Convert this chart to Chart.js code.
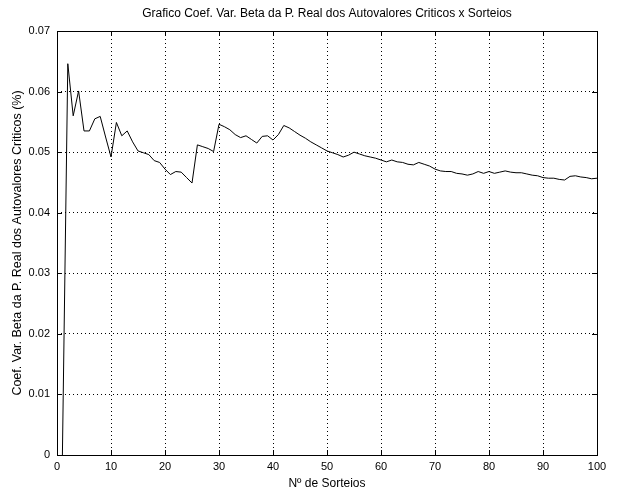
<!DOCTYPE html>
<html>
<head>
<meta charset="utf-8">
<script src="https://cdn.jsdelivr.net/npm/chart.js@4/dist/chart.umd.min.js"></script>
<style>
  html, body { margin: 0; padding: 0; background: #fff; }
  #wrap { width: 620px; height: 491px; }
</style>
</head>
<body>
<div id="wrap"><canvas id="graph" width="620" height="491"></canvas></div>
<script>
// Nº do sorteio (1..100)
const sorteios = Array.from({ length: 100 }, (_, i) => i + 1);

// Coef. de variação
const coefVar = [
  0.0000, 0.0646, 0.0560, 0.0601, 0.0535, 0.0535, 0.0555, 0.0559, 0.0525, 0.0492,
  0.0549, 0.0527, 0.0535, 0.0517, 0.0502, 0.0499, 0.0496, 0.0486, 0.0483, 0.0472,
  0.0463, 0.0468, 0.0467, 0.0458, 0.0449, 0.0512, 0.0509, 0.0506, 0.0501, 0.0546,
  0.0542, 0.0537, 0.0529, 0.0524, 0.0527, 0.0521, 0.0515, 0.0526, 0.0527, 0.0520,
  0.0529, 0.0544, 0.0540, 0.0534, 0.0528, 0.0523, 0.0517, 0.0512, 0.0507, 0.0502,
  0.0499, 0.0496, 0.0492, 0.0495, 0.0500, 0.0497, 0.0494, 0.0492, 0.0490, 0.0487,
  0.0484, 0.0487, 0.0484, 0.0483, 0.0480, 0.0479, 0.0483, 0.0480, 0.0477, 0.0472,
  0.0469, 0.0468, 0.0468, 0.0465, 0.0464, 0.0462, 0.0464, 0.0468, 0.0465, 0.0468,
  0.0465, 0.0467, 0.0469, 0.0467, 0.0466, 0.0466, 0.0464, 0.0462, 0.0461, 0.0458,
  0.0457, 0.0457, 0.0455, 0.0454, 0.0460, 0.0461, 0.0459, 0.0458, 0.0456, 0.0457
];

const xTicks = [0, 10, 20, 30, 40, 50, 60, 70, 80, 90, 100];
const yTicks = [0, 0.01, 0.02, 0.03, 0.04, 0.05, 0.06, 0.07];

const titulo = 'Grafico Coef. Var. Beta da P. Real dos Autovalores Criticos x Sorteios';
const tituloX = 'Nº de Sorteios';
const tituloY = 'Coef. Var. Beta da P. Real dos Autovalores Criticos (%)';

const pontos = sorteios.map((s, i) => ({ x: s, y: coefVar[i] }));

const familia = '"Liberation Sans", Arial, sans-serif';
const fonte = { family: familia, size: 11 };

// moldura, marcas para dentro (estilo matlab) e título centrado na área do gráfico
const moldura = {
  id: 'moldura',
  afterDraw(chart) {
    const { ctx, chartArea: a, scales } = chart;
    ctx.save();
    ctx.strokeStyle = '#000';
    ctx.lineWidth = 1;
    ctx.setLineDash([]);
    ctx.strokeRect(Math.round(a.left) + 0.5, Math.round(a.top) + 0.5,
      Math.round(a.right - a.left), Math.round(a.bottom - a.top));
    ctx.beginPath();
    xTicks.forEach(t => {
      const px = Math.round(scales.x.getPixelForValue(t)) + 0.5;
      ctx.moveTo(px, a.bottom); ctx.lineTo(px, a.bottom - 5);
      ctx.moveTo(px, a.top); ctx.lineTo(px, a.top + 5);
    });
    yTicks.forEach(t => {
      const py = Math.round(scales.y.getPixelForValue(t)) + 0.5;
      ctx.moveTo(a.left, py); ctx.lineTo(a.left + 5, py);
      ctx.moveTo(a.right, py); ctx.lineTo(a.right - 5, py);
    });
    ctx.stroke();

    ctx.fillStyle = '#000';
    ctx.font = '12px ' + familia;
    ctx.textAlign = 'center';
    ctx.textBaseline = 'middle';
    ctx.fillText(titulo, (a.left + a.right) / 2, 14);
    ctx.restore();
  }
};

Chart.defaults.color = '#000';

new Chart(document.getElementById('graph').getContext('2d'), {
  type: 'line',
  data: {
    datasets: [{
      data: pontos,
      borderColor: '#000',
      borderWidth: 1,
      pointRadius: 0,
      tension: 0
    }]
  },
  options: {
    responsive: false,
    animation: false,
    layout: { padding: { left: 0, right: 23, top: 31, bottom: 0 } },
    plugins: {
      legend: { display: false },
      tooltip: { enabled: false },
      title: { display: false }
    },
    scales: {
      x: {
        type: 'linear',
        min: 0,
        max: 100,
        afterBuildTicks: s => { s.ticks = xTicks.map(v => ({ value: v })); },
        afterFit: s => { s.height = 36; },
        ticks: { font: fonte, padding: 5, maxRotation: 0 },
        grid: { color: '#000', lineWidth: 1, drawTicks: false },
        border: { display: false, dash: [1, 3] },
        title: { display: true, text: tituloX, font: { family: familia, size: 12 }, padding: { top: 1, bottom: 0 } }
      },
      y: {
        min: 0,
        max: 0.07,
        afterBuildTicks: s => { s.ticks = yTicks.map(v => ({ value: v })); },
        afterFit: s => { s.width = 57; },
        ticks: {
          font: fonte,
          padding: 7,
          callback: v => (v === 0 ? '0' : Number(v).toFixed(2))
        },
        grid: { color: '#000', lineWidth: 1, drawTicks: false },
        border: { display: false, dash: [1, 3] },
        title: { display: true, text: tituloY, font: { family: familia, size: 12.5 }, padding: { top: 10, bottom: 0 } }
      }
    }
  },
  plugins: [moldura]
});
</script>
</body>
</html>
